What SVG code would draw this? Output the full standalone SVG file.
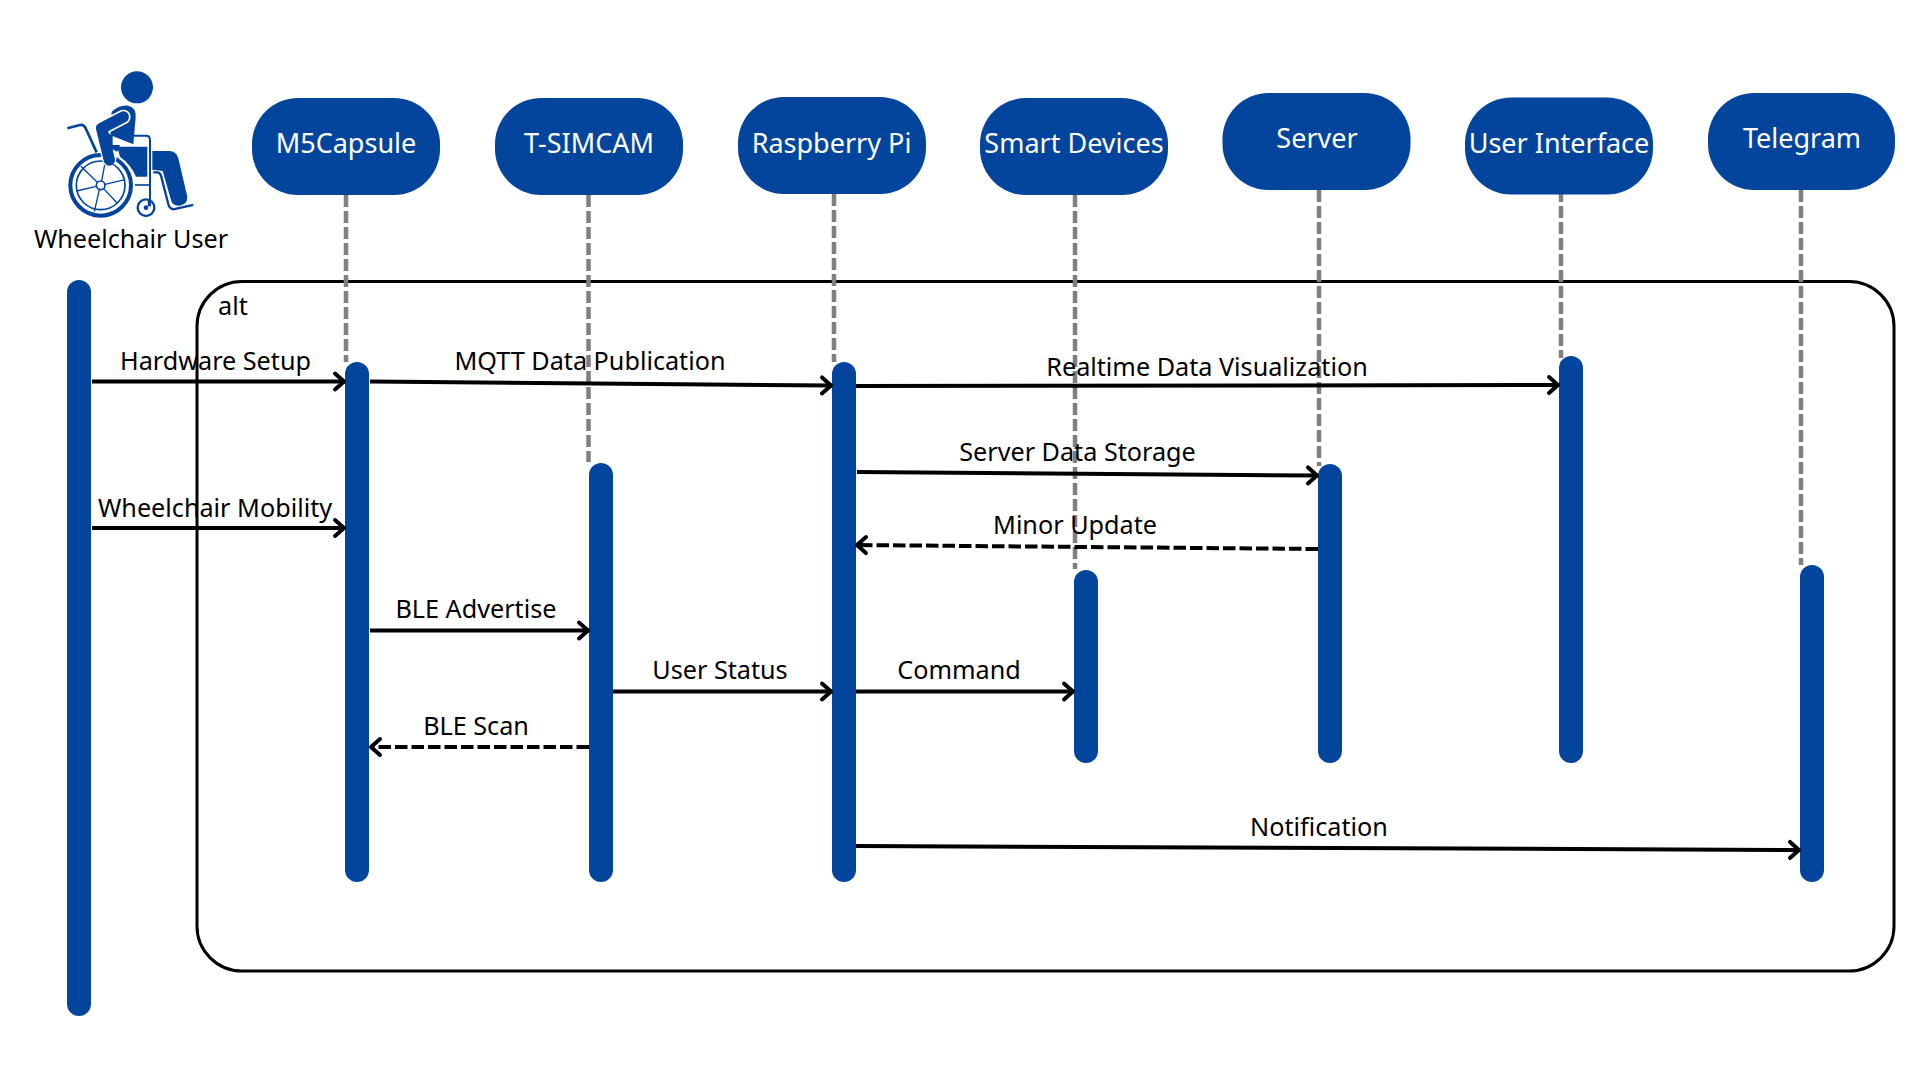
<svg xmlns="http://www.w3.org/2000/svg" width="1920" height="1080" viewBox="0 0 1920 1080">
<style>
text{font-family:"Noto Sans","Open Sans","DejaVu Sans",sans-serif;font-size:25.2px;fill:#000;text-anchor:middle}
.n text{fill:#fff;font-size:27px}
.n rect,.b{fill:#03459c}
.ll{stroke:#7f7f7f;stroke-width:4.5;stroke-dasharray:12 4;fill:none}
.m{stroke:#000;stroke-width:4;fill:none;marker-end:url(#a)}
.d{stroke-dasharray:12.5 4}
.ic{fill:none;stroke:#03459c}
</style>
<defs>
<marker id="a" markerUnits="userSpaceOnUse" markerWidth="24" markerHeight="24" refX="13" refY="12" orient="auto"><path d="M3,4 L12,12 L3,20" fill="none" stroke="#000" stroke-width="4" stroke-linecap="round" stroke-linejoin="round"/></marker>
</defs>
<rect width="1920" height="1080" fill="#fff"/>
<rect id="alt-frame" x="197" y="281.500" width="1697" height="689.500" rx="45" ry="45" fill="none" stroke="#000" stroke-width="3"/>
<g id="lifelines">
<path class="ll" d="M346,195V362"/>
<path class="ll" d="M588.500,195V462"/>
<path class="ll" d="M834,194V362"/>
<path class="ll" d="M1075,195V569"/>
<path class="ll" d="M1319,190V466"/>
<path class="ll" d="M1561,190V358"/>
<path class="ll" d="M1801,190V565"/>
</g>
<g id="user">
<g transform="translate(60,65) scale(.3333)">
<circle cx="231" cy="67" r="48" fill="#03459c"/>
<path fill="#03459c" d="M155,140Q180,118 205,122Q230,128 227,158L220,238L150,210Z"/>
<path fill="#03459c" d="M172,245H262V335H228Q212,298 180,275Z"/>
<path fill="#03459c" d="M277,258H330Q350,260 355,280L382,395Q384,417 358,422Q338,424 333,405L308,318L277,314Z"/>
<path class="ic" stroke-width="6" d="M222,212H258Q270,212 270,225V424"/>
<path class="ic" stroke-width="5" d="M225,360H270"/>
<path class="ic" stroke-width="7" d="M280,322H292Q300,322 303,332L325,418Q330,436 346,432L400,420"/>
<path class="ic" stroke-width="8" d="M22,190L60,180Q72,178 78,192L110,262"/>
<circle class="ic" stroke-width="12" cx="122" cy="361" r="91"/>
<circle class="ic" stroke-width="5" cx="122" cy="361" r="73"/>
<circle class="ic" stroke-width="5" cx="122" cy="361" r="13"/>
<path class="ic" stroke-width="4" d="M112,352L62,303M134,300L125,348M135,358L195,344M131,371L172,415M118,374L103,440M109,364L50,378"/>
<circle class="ic" stroke-width="7" cx="258" cy="428" r="25"/>
<circle cx="258" cy="428" r="7" fill="#03459c"/>
<path class="ic" stroke-width="5" d="M266,405V424"/>
<path fill="none" stroke="#fff" stroke-width="44" stroke-linejoin="round" stroke-linecap="round" d="M190,156L125,190L148,280"/>
<path fill="none" stroke="#03459c" stroke-width="34" stroke-linejoin="round" stroke-linecap="round" d="M190,156L125,190L148,285"/>
<path fill="#03459c" d="M145,205L158,212V240H180L172,260L150,250Z"/>
</g>
<text x="131" y="248">Wheelchair User</text>
</g>
<g class="b">
<rect id="user-bar" x="67" y="280" width="24" height="736" rx="12"/>
<rect id="m5-bar" x="345" y="362" width="24" height="520" rx="12"/>
<rect id="tsim-bar" x="589" y="463" width="24" height="419" rx="12"/>
<rect id="rpi-bar" x="832" y="362" width="24" height="520" rx="12"/>
<rect id="smart-bar" x="1074" y="570" width="24" height="193" rx="12"/>
<rect id="server-bar" x="1318" y="464" width="24" height="299" rx="12"/>
<rect id="ui-bar" x="1559" y="356" width="24" height="407" rx="12"/>
<rect id="tele-bar" x="1800" y="565" width="24" height="317" rx="12"/>
</g>
<g id="connectors">
<path class="m" d="M92,381.500H345"/>
<path class="m" d="M370,381.500L832,385.500"/>
<path class="m" d="M856,386L1559,385"/>
<path class="m" d="M857,472L1318,475.500"/>
<path class="m d" d="M1318,549L856,545"/>
<path class="m" d="M92,528H345"/>
<path class="m" d="M370,630.500H589"/>
<path class="m" d="M613,691.500H832"/>
<path class="m" d="M856,691.500H1074"/>
<path class="m d" d="M589,747H370"/>
<path class="m" d="M856,846L1800,850"/>
</g>
<g id="labels">
<text x="218" y="315" style="text-anchor:start">alt</text>
<text x="215.500" y="370">Hardware Setup</text>
<text x="590" y="370">MQTT Data Publication</text>
<text x="1207" y="376">Realtime Data Visualization</text>
<text x="1077.500" y="461">Server Data Storage</text>
<text x="215" y="517">Wheelchair Mobility</text>
<text x="1075" y="534">Minor Update</text>
<text x="476" y="618">BLE Advertise</text>
<text x="720" y="679">User Status</text>
<text x="959" y="679">Command</text>
<text x="476" y="735">BLE Scan</text>
<text x="1319" y="836">Notification</text>
</g>
<g id="m5" class="n"><rect x="252" y="98" width="188" height="97" rx="46"/><text x="346" y="153">M5Capsule</text></g>
<g id="tsimcam" class="n"><rect x="495" y="98" width="188" height="97" rx="46"/><text x="589" y="153">T-SIMCAM</text></g>
<g id="rpi" class="n"><rect x="738" y="97" width="188" height="97" rx="46"/><text x="831.500" y="153">Raspberry Pi</text></g>
<g id="smart" class="n"><rect x="980" y="98" width="188" height="97" rx="46"/><text x="1074" y="153">Smart Devices</text></g>
<g id="server" class="n"><rect x="1222.500" y="93" width="188" height="97" rx="46"/><text x="1317" y="148">Server</text></g>
<g id="ui" class="n"><rect x="1465" y="97.500" width="188" height="97" rx="46"/><text x="1559" y="153">User Interface</text></g>
<g id="telegram" class="n"><rect x="1708" y="93" width="187" height="97" rx="46"/><text x="1802" y="148">Telegram</text></g>
</svg>
